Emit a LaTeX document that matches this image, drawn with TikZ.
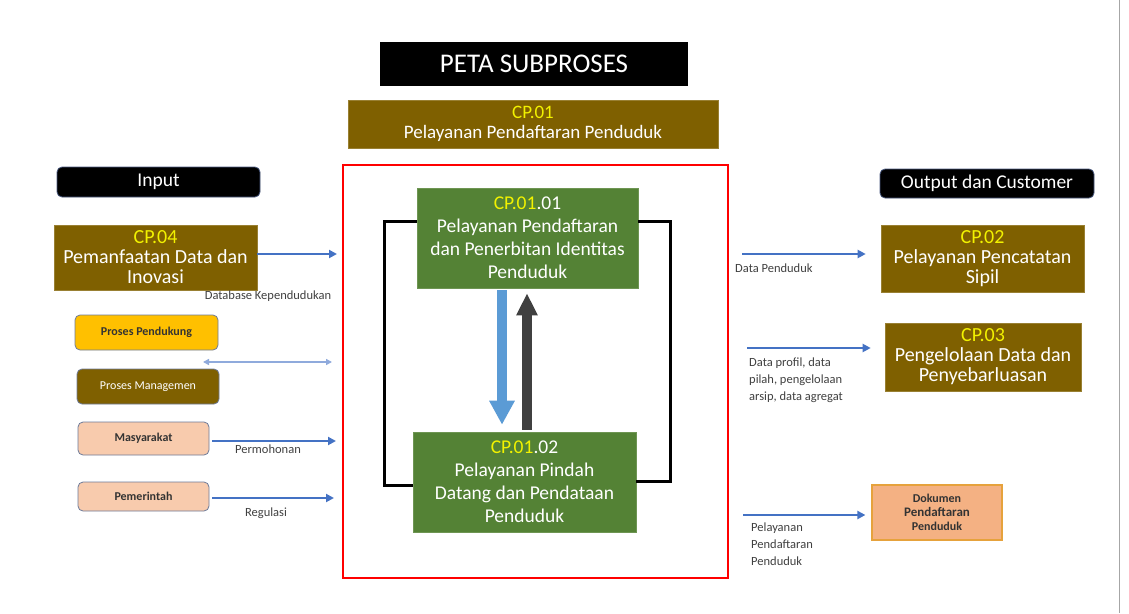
\documentclass[tikz,border=0pt]{standalone}
\usepackage{fontspec}
\setmainfont{Carlito}
\usetikzlibrary{arrows.meta}
\definecolor{brownbox}{HTML}{7F6000}
\definecolor{greenbox}{HTML}{548235}
\definecolor{cpyellow}{HTML}{F2F200}
\definecolor{peach}{HTML}{F8CBAD}
\definecolor{dokfill}{HTML}{F4B183}
\definecolor{dokline}{HTML}{E6A23C}
\definecolor{goldbox}{HTML}{FFC000}
\definecolor{arrowblue}{HTML}{4472C4}
\definecolor{lightblue}{HTML}{8FAADC}
\definecolor{bigblue}{HTML}{5B9BD5}
\definecolor{darkgray}{HTML}{404040}
\definecolor{edgegray}{HTML}{4A5A80}
\tikzset{
  hdr/.style={fill=black, draw=edgegray, line width=0.8pt, rounded corners=5pt, text=white, inner sep=0pt, font=\fontsize{19.5}{22}\selectfont},
  brownnode/.style={fill=brownbox, draw=brownbox!80!white, line width=0.6pt, text=white, align=center, inner sep=0pt, font=\fontsize{20}{20}\selectfont},
  greennode/.style={fill=greenbox, draw=greenbox!85!white, line width=0.6pt, text=white, align=center, inner sep=0pt, font=\fontsize{19.5}{23}\selectfont},
  smallbox/.style={rounded corners=5pt, draw=edgegray!80, line width=0.8pt, inner sep=0pt, font=\fontsize{12}{13}\selectfont\bfseries},
  barrow/.style={draw=arrowblue, line width=2pt, -{Triangle[width=8pt,length=8pt]}},
  lbl/.style={inner sep=0pt, text=black!75, font=\fontsize{12.5}{17}\selectfont, align=left},
  loopline/.style={draw=black, line width=3pt}
}
\begin{document}
\begin{tikzpicture}[x=1pt,y=-1pt]
\useasboundingbox (0,0) rectangle (1129,613);
\fill[white] (0,0) rectangle (1129,613);
\draw[black!35, line width=0.8pt] (1119,0) -- (1119,613);

% title
\node[fill=black, text=white, minimum width=308pt, minimum height=44pt, inner sep=0pt, font=\fontsize{27}{30}\selectfont] (title) at (534,64) {PETA SUBPROSES};
\node[brownnode, minimum width=370pt, minimum height=48pt, font=\fontsize{19}{20}\selectfont] (cp01) at (533,124) {{\color{cpyellow}CP.01}\\Pelayanan Pendaftaran Penduduk};

% red frame
\node[draw=red, line width=2pt, minimum width=385pt, minimum height=413pt, inner sep=0pt] (frame) at (535.5,371.5) {};

% green subprocesses
\node[greennode, minimum width=221pt, minimum height=100pt] (g1) at (527.5,238) {{\color{cpyellow}CP.01}.01\\Pelayanan Pendaftaran\\dan Penerbitan Identitas\\Penduduk};
\node[greennode, minimum width=223pt, minimum height=100pt] (g2) at (524.5,482) {{\color{cpyellow}CP.01}.02\\Pelayanan Pindah\\Datang dan Pendataan\\Penduduk};

% loops
\draw[loopline] ([yshift=17pt]g1.west) -- ++(-32,0) |- ([yshift=-3pt]g2.west);
\draw[loopline] ([yshift=17pt]g1.east) -- ++(32,0) |- ([yshift=1pt]g2.east);

% big arrows
\draw[draw=bigblue, line width=10pt, -{Triangle[width=24pt,length=24pt]}, shorten <=2pt, shorten >=7pt] ([xshift=-25.5pt]g1.south) -- ([xshift=-22.5pt]g2.north);
\draw[draw=darkgray, line width=10pt, -{Triangle[width=20pt,length=22pt]}, shorten <=2pt, shorten >=5pt] ([xshift=2.5pt]g2.north) -- ([xshift=-0.5pt]g1.south);

% left side
\node[hdr, minimum width=203pt, minimum height=30pt] (input) at (158.5,182) {Input};
\node[brownnode, minimum width=203pt, minimum height=65pt] (cp04) at (155.5,257.5) {{\color{cpyellow}CP.04}\\Pemanfaatan Data dan\\Inovasi};
\node[smallbox, fill=goldbox, text=black!80, minimum width=143pt, minimum height=35pt] (pendukung) at (146.5,332.5) {Proses Pendukung};
\node[smallbox, fill=brownbox, text=white, minimum width=142pt, minimum height=35pt, font=\fontsize{12}{13}\selectfont] (manag) at (148,386.5) {Proses Managemen};
\node[smallbox, fill=peach, text=black!80, minimum width=131pt, minimum height=33pt] (masy) at (143.5,438.5) {Masyarakat};
\node[smallbox, fill=peach, text=black!80, minimum width=131pt, minimum height=29pt] (pemer) at (143.5,496.5) {Pemerintah};

\draw[barrow, shorten >=5pt] ([yshift=3.5pt]cp04.east) -- ([yshift=3.5pt]cp04.east -| frame.west);
\node[lbl] (lbdb) at (268,296) {Database Kependudukan};
\coordinate (da1) at (203,362);
\coordinate (da2) at (332,362);
\draw[draw=lightblue, line width=1.5pt, {Triangle[width=6pt,length=6pt]}-{Triangle[width=6pt,length=6pt]}] (da1) -- (da2);
\draw[barrow, shorten <=3pt, shorten >=6pt] ([yshift=-2.5pt]masy.east) -- ([yshift=-2.5pt]masy.east -| frame.west);
\node[lbl] (lbperm) at (268,449) {Permohonan};
\draw[barrow, shorten <=3pt, shorten >=8pt] ([yshift=-1.5pt]pemer.east) -- ([yshift=-1.5pt]pemer.east -| frame.west);
\node[lbl] (lbreg) at (266,513) {Regulasi};

% right side
\node[hdr, minimum width=214pt, minimum height=29pt] (output) at (987,183.5) {Output dan Customer};
\node[brownnode, minimum width=203pt, minimum height=67pt] (cp02) at (982.5,258.5) {{\color{cpyellow}CP.02}\\Pelayanan Pencatatan\\Sipil};
\node[brownnode, minimum width=196pt, minimum height=68pt] (cp03) at (983,357) {{\color{cpyellow}CP.03}\\Pengelolaan Data dan\\Penyebarluasan};
\node[fill=dokfill, draw=dokline, line width=1.2pt, minimum width=130pt, minimum height=55pt, inner sep=0pt, align=center, text=black!80, font=\fontsize{12}{14}\selectfont\bfseries] (dok) at (937,512.5) {Dokumen\\{\fontsize{13}{14}\selectfont Pendaftaran}\\Penduduk};

\draw[barrow, shorten <=13pt, shorten >=15pt] ([yshift=4.5pt]frame.east |- cp02.west) -- ([yshift=4.5pt]cp02.west);
\node[lbl, anchor=west] (lbdp) at (735,268) {Data Penduduk};
\draw[barrow, shorten <=18pt, shorten >=14pt] ([yshift=9pt]frame.east |- cp03.west) -- ([yshift=9pt]cp03.west);
\node[lbl, anchor=north west] (lbprof) at (749,358) {Data profil, data\\pilah, pengelolaan\\arsip, data agregat};
\draw[barrow, shorten <=14pt, shorten >=6pt] ([yshift=-2.5pt]frame.east |- dok.west) -- ([yshift=-2.5pt]dok.west);
\node[lbl, anchor=north west] (lbpel) at (751,523) {Pelayanan\\Pendaftaran\\Penduduk};
\end{tikzpicture}
\end{document}
